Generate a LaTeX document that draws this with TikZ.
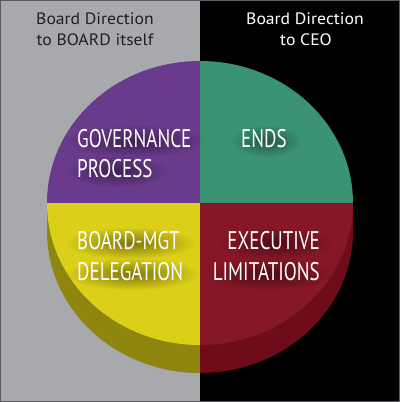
\documentclass[tikz,border=0pt]{standalone}
\usepackage{fontspec}
\setmainfont{PT Sans}
\usetikzlibrary{fadings}
\pgfdeclarelayer{bg}
\pgfsetlayers{bg,main}
\definecolor{bggray}{HTML}{A7A9AC}
\definecolor{framegray}{HTML}{5A5B5E}
\definecolor{cpurple}{HTML}{6A3A8C}
\definecolor{cgreen}{HTML}{3A9373}
\definecolor{cyellow}{HTML}{DBCF18}
\definecolor{cred}{HTML}{861727}
\definecolor{colive}{HTML}{8F8610}
\definecolor{cdarkred}{HTML}{6F0C19}
\definecolor{toptext}{HTML}{231F20}
\tikzfading[name=softblob, inner color=transparent!0, outer color=transparent!100]
\newcommand{\qtext}[1]{\scalebox{0.745}[1]{\fontsize{25.5}{30}\selectfont #1}}
\newcommand{\ttext}[1]{\scalebox{1.07}[1]{\fontsize{16.5}{20}\selectfont #1}}
\newcommand{\qshadow}[2]{%
  \fill[black, fill opacity=0.42, path fading=softblob, fit fading=true]
    ([xshift=2pt,yshift=-3pt]#1.center) ellipse [x radius=#2, y radius=16];}
\tikzset{
  toplabel/.style={inner sep=0pt, anchor=base},
  quadlabel/.style={text=white, inner sep=0pt}
}
\begin{document}
\begin{tikzpicture}[x=1pt,y=-1pt]
\useasboundingbox (0,0) rectangle (400,402);
\begin{pgfonlayer}{bg}
% background halves
\fill[bggray] (0,0) rectangle (200,402);
\fill[black] (200,0) rectangle (400,402);
\draw[framegray, line width=1.2pt] (0.6,0.6) rectangle (399.4,401.4);
% extruded side of the disc
\begin{scope}
  \clip (0,0) rectangle (200,402);
  \fill[colive] (200,231) ellipse [x radius=153, y radius=142];
  \fill[colive] (47,203) rectangle (353,231);
\end{scope}
\begin{scope}
  \clip (200,0) rectangle (400,402);
  \fill[cdarkred] (200,231) ellipse [x radius=153, y radius=142];
  \fill[cdarkred] (47,203) rectangle (353,231);
\end{scope}
% top face quadrants
\begin{scope}
  \clip (200,203) ellipse [x radius=153, y radius=142];
  \fill[cpurple] (0,0) rectangle (200,203);
  \fill[cgreen] (200,0) rectangle (400,203);
  \fill[cyellow] (0,203) rectangle (200,402);
  \fill[cred] (200,203) rectangle (400,402);
\end{scope}
\end{pgfonlayer}
% top labels
\node[toplabel, text=toptext] (lefthead1) at (95,24) {\ttext{Board Direction}};
\node[toplabel, text=toptext] (lefthead2) at (95,45) {\ttext{to BOARD itself}};
\node[toplabel, text=white] (righthead1) at (305,24) {\ttext{Board Direction}};
\node[toplabel, text=white] (righthead2) at (306,45) {\ttext{to CEO}};
% quadrant labels
\node[quadlabel, anchor=base west] (gov) at (77,147) {\qtext{GOVERNANCE}};
\node[quadlabel, anchor=base west] (proc) at (77,177) {\qtext{PROCESS}};
\node[quadlabel, anchor=base west] (ends) at (241,147) {\qtext{ENDS}};
\node[quadlabel, anchor=base west] (bmgt) at (77,249) {\qtext{BOARD-MGT}};
\node[quadlabel, anchor=base west] (deleg) at (77,280) {\qtext{DELEGATION}};
\node[quadlabel, anchor=base east] (exec) at (320,249) {\qtext{EXECUTIVE}};
\node[quadlabel, anchor=base east] (limit) at (320,280) {\qtext{LIMITATIONS}};
% soft shadows beneath the quadrant labels, kept on the disc face
\begin{pgfonlayer}{bg}
\begin{scope}
  \clip (200,203) ellipse [x radius=153, y radius=142];
  \qshadow{gov}{70}
  \qshadow{proc}{51}
  \qshadow{ends}{35}
  \qshadow{bmgt}{65}
  \qshadow{deleg}{66}
  \qshadow{exec}{57}
  \qshadow{limit}{64}
\end{scope}
\end{pgfonlayer}
\end{tikzpicture}
\end{document}
